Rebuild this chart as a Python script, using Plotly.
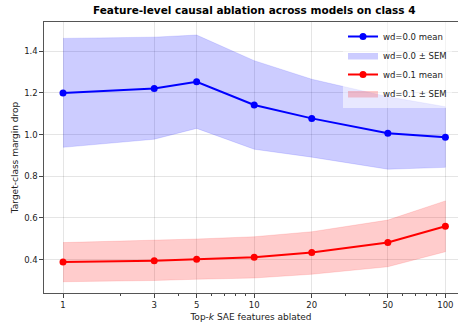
import plotly.graph_objects as go

k_vals = [1, 3, 5, 10, 20, 50, 100]
tick_labels = ["1", "3", "5", "10", "20", "50", "100"]

wd0_mean = [1.200, 1.222, 1.254, 1.142, 1.078, 1.007, 0.987]
wd0_upper = [1.462, 1.468, 1.478, 1.355, 1.266, 1.182, 1.134]
wd0_lower = [0.939, 0.978, 1.030, 0.930, 0.892, 0.834, 0.843]

wd1_mean = [0.389, 0.395, 0.402, 0.411, 0.434, 0.482, 0.560]
wd1_upper = [0.482, 0.493, 0.499, 0.510, 0.534, 0.590, 0.682]
wd1_lower = [0.294, 0.300, 0.306, 0.312, 0.330, 0.366, 0.438]

fig = go.Figure()

def band(x, up, lo, color, edge, name, rank):
    return go.Scatter(
        x=list(x) + list(x)[::-1],
        y=list(up) + list(lo)[::-1],
        fill="toself",
        fillcolor=color,
        line=dict(color=edge, width=0.8),
        mode="lines",
        name=name,
        legendrank=rank,
        hoverinfo="skip",
    )

fig.add_trace(band(k_vals, wd0_upper, wd0_lower, "rgba(0,0,255,0.2)", "rgba(0,0,255,0.15)", "wd=0.0 ± SEM", 2))
fig.add_trace(band(k_vals, wd1_upper, wd1_lower, "rgba(255,0,0,0.2)", "rgba(255,0,0,0.15)", "wd=0.1 ± SEM", 4))
fig.add_trace(go.Scatter(x=k_vals, y=wd0_mean, mode="lines+markers", name="wd=0.0 mean",
                         line=dict(color="#0000ff", width=2), marker=dict(size=7, color="#0000ff"),
                         legendrank=1))
fig.add_trace(go.Scatter(x=k_vals, y=wd1_mean, mode="lines+markers", name="wd=0.1 mean",
                         line=dict(color="#ff0000", width=2), marker=dict(size=7, color="#ff0000"),
                         legendrank=3))

font = "DejaVu Sans"
fig.update_layout(
    width=458, height=324,
    margin=dict(l=44, r=0, t=22, b=31, autoexpand=False),
    plot_bgcolor="white", paper_bgcolor="white",
    font=dict(family=font, size=8.5, color="#222"),
    showlegend=True,
    legend=dict(x=(343 - 44) / 414, y=1.0, xanchor="left", yanchor="top",
                bgcolor="rgba(255,255,255,0.55)", font=dict(size=8.5, family=font, color="#222"),
                tracegroupgap=0, itemwidth=30, borderwidth=0),
    annotations=[dict(text="<b>Feature-level causal ablation across models on class 4</b>",
                      xref="paper", yref="paper", x=(254 - 44) / 414, y=1, yshift=4,
                      xanchor="center", yanchor="bottom", showarrow=False,
                      font=dict(size=10.5, family=font, color="black"))],
)
fig.update_xaxes(
    type="log", range=[-0.0994, 2.066], automargin=False,
    tickvals=k_vals, ticktext=tick_labels,
    ticks="outside", ticklen=3.5, tickcolor="#444", tickwidth=1,
    minor=dict(tickvals=[2, 4, 6, 7, 8, 9, 30, 40, 60, 70, 80, 90], ticks="outside",
               ticklen=2, tickcolor="#444", showgrid=False),
    showgrid=True, gridcolor="rgba(0,0,0,0.1)", gridwidth=1,
    showline=True, linecolor="#555", linewidth=1.2, mirror=True,
    zeroline=False,
    title=dict(text="Top-<i>k</i> SAE features ablated", font=dict(size=9, family=font, color="#222"), standoff=4),
)
fig.update_yaxes(
    range=[0.240, 1.5406], automargin=False,
    tickvals=[0.4, 0.6, 0.8, 1.0, 1.2, 1.4], ticktext=["0.4", "0.6", "0.8", "1.0", "1.2", "1.4"],
    ticks="outside", ticklen=3.5, tickcolor="#444",
    showgrid=True, gridcolor="rgba(0,0,0,0.1)", gridwidth=1,
    showline=True, linecolor="#555", linewidth=1.2, mirror=False,
    zeroline=False,
    title=dict(text="Target-class margin drop", font=dict(size=9, family=font, color="#222"), standoff=4),
)

fig.write_html("out.html", config={"displayModeBar": False},
               post_script="document.body.style.margin='0px';document.body.style.padding='0px';")
